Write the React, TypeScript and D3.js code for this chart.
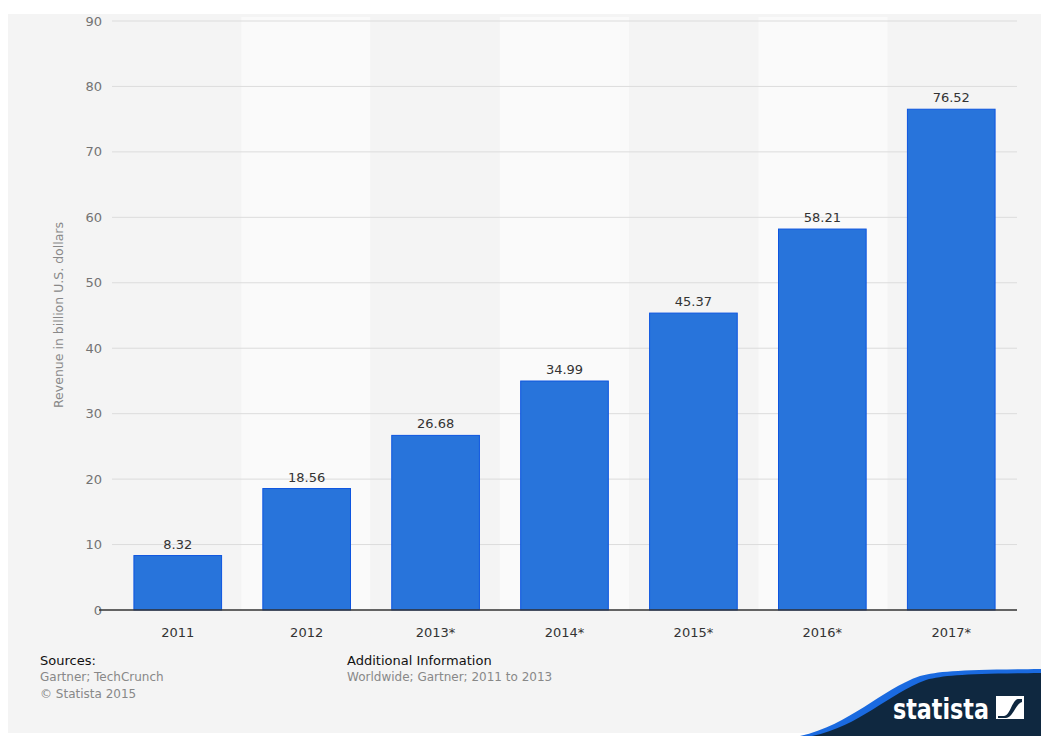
import React from "react";
import * as d3 from "d3";

const categories = ["2011", "2012", "2013*", "2014*", "2015*", "2016*", "2017*"];
const values = [8.32, 18.56, 26.68, 34.99, 45.37, 58.21, 76.52];
const yTicks = [0, 10, 20, 30, 40, 50, 60, 70, 80, 90];

const W = 1041;
const H = 736;
const M = { left: 112, right: 1017, top: 21, bottom: 610 };
const FONT = "'DejaVu Sans', 'Open Sans', sans-serif";

export default function App() {
  const x = d3.scaleBand<string>().domain(categories).range([M.left, M.right]).paddingInner(0.32).paddingOuter(0.17);
  const band = d3.scaleBand<string>().domain(categories).range([M.left, M.right]).padding(0);
  const y = d3.scaleLinear().domain([0, 90]).range([M.bottom, M.top]);

  return (
    <svg width={W} height={H} style={{ position: "absolute", left: 0, top: 0, fontFamily: FONT }}>
      <rect x={0} y={0} width={W} height={H} fill="#ffffff" />
      <rect x={8} y={14} width={W - 8} height={719} fill="#f4f4f4" />
      {categories.map((c, i) => (
        <rect key={"b" + c} x={band(c)!} y={M.top - 4} width={band.bandwidth()} height={M.bottom - M.top + 4}
          fill={i % 2 === 1 ? "#fafafa" : "#f4f4f4"} />
      ))}
      {yTicks.map((t) => (
        <g key={"t" + t}>
          {t !== 0 && (
            <line x1={112} x2={M.right} y1={y(t)} y2={y(t)} stroke="#dcdcdc" strokeWidth={1} />
          )}
          <text x={102} y={y(t)} dy="0.35em" textAnchor="end" fontSize={13} fill="#737373">{t}</text>
        </g>
      ))}
      <text transform={`translate(63,315) rotate(-90)`} textAnchor="middle" fontSize={12.5} fill="#888">
        Revenue in billion U.S. dollars
      </text>
      {categories.map((c, i) => (
        <g key={"bar" + c}>
          <rect x={x(c)!} y={y(values[i])} width={x.bandwidth()} height={y(0) - y(values[i])}
            fill="#2874db" stroke="#0d55e0" strokeWidth={1} />
          <text x={x(c)! + x.bandwidth() / 2} y={y(values[i]) - 7} textAnchor="middle" fontSize={13} fill="#333">
            {values[i].toFixed(2)}
          </text>
          <text x={x(c)! + x.bandwidth() / 2} y={637} textAnchor="middle" fontSize={13} fill="#333">{c}</text>
        </g>
      ))}
      <line x1={99} x2={M.right} y1={M.bottom} y2={M.bottom} stroke="#333" strokeWidth={1.5} />
      <text x={40} y={665} fontSize={13} fill="#111">Sources:</text>
      <text x={40} y={681} fontSize={12} fill="#888">Gartner; TechCrunch</text>
      <text x={40} y={698} fontSize={12} fill="#888">© Statista 2015</text>
      <text x={347} y={665} fontSize={13} fill="#111">Additional Information</text>
      <text x={347} y={681} fontSize={12} fill="#888">Worldwide; Gartner; 2011 to 2013</text>
      <path d="M 800 736 C 850 725, 880 690, 920 676 C 940 671, 960 670, 1041 669 L 1041 736 Z" fill="#1a6ae0" />
      <path d="M 812 736 C 860 726, 888 694, 926 680 C 945 675, 965 674, 1041 673 L 1041 736 Z" fill="#0f2840" />
      <text x={893} y={719} fontSize={28} fontWeight="bold" fill="#ffffff" textLength={96} lengthAdjust="spacingAndGlyphs"
        fontFamily="'DejaVu Sans Condensed', 'Liberation Sans', sans-serif">statista</text>
      <rect x={996} y={696} width={28} height={23} fill="#ffffff" />
      <path d="M 998 716 L 1004 716 C 1010 716, 1012 700, 1018 699 L 1022 699 L 1022 702 C 1016 703, 1013 718, 1006 718 L 998 718 Z" fill="#0f2840" />
    </svg>
  );
}
